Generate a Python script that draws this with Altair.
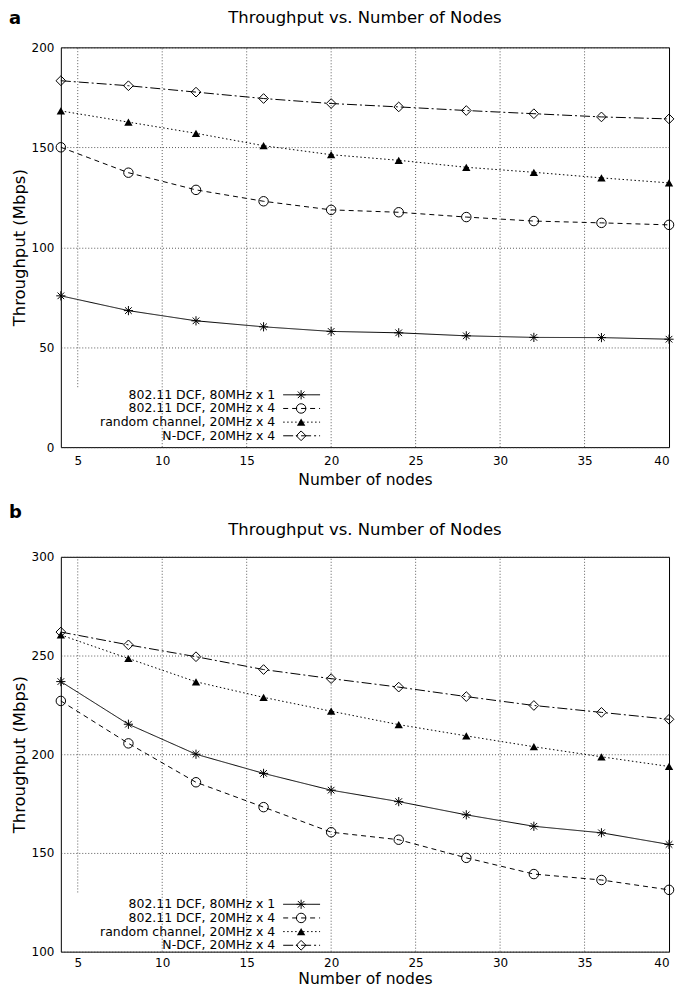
import altair as alt
import pandas as pd

# ---------------- data ----------------
nodes = [4, 8, 12, 16, 20, 24, 28, 32, 36, 40]
series_names = [
    "802.11 DCF, 80MHz x 1",
    "802.11 DCF, 20MHz x 4",
    "random channel, 20MHz x 4",
    "N-DCF, 20MHz x 4",
]

# panel a
a_dcf80 = [75.7, 68.3, 63.2, 60.2, 57.9, 57.2, 55.7, 54.9, 54.8, 54.0]
a_dcf20 = [150.0, 137.3, 128.7, 123.0, 118.7, 117.5, 115.1, 113.1, 112.2, 111.2]
a_rand = [168.2, 162.6, 157.0, 150.8, 146.3, 143.5, 140.0, 137.5, 134.7, 132.2]
a_ndcf = [183.3, 180.8, 177.6, 174.4, 171.9, 170.2, 168.4, 166.8, 165.2, 164.2]

# panel b
b_dcf80 = [236.8, 215.2, 200.0, 190.3, 181.8, 176.0, 169.3, 163.5, 160.2, 154.3]
b_dcf20 = [227.0, 205.5, 185.8, 173.2, 160.5, 156.7, 147.5, 139.3, 136.3, 131.3]
b_rand = [260.4, 248.5, 236.7, 228.8, 221.8, 215.0, 209.3, 203.8, 198.7, 193.8]
b_ndcf = [261.9, 255.4, 249.4, 242.9, 238.3, 234.0, 229.2, 224.7, 221.2, 217.7]

x_ticks = [5, 10, 15, 20, 25, 30, 35, 40]
x_grid = [5, 10, 15, 20, 25, 30, 35]
a_y_ticks = [0, 50, 100, 150, 200]
b_y_ticks = [100, 150, 200, 250, 300]

title_text = "Throughput vs. Number of Nodes"
x_title = "Number of nodes"
y_title = "Throughput (Mbps)"

# ---------------- styles ----------------
FONT = "DejaVu Sans"
W = 610
STAR = "M-1,0L1,0M0,-1L0,1M-0.72,-0.72L0.72,0.72M-0.72,0.72L0.72,-0.72"
dashes = [[1, 0], [5, 4], [1.5, 2.5], [10, 3, 2, 3]]
shapes = [STAR, "circle", "triangle-up", "diamond"]
sizes = [85, 90, 70, 95]
fills = [False, False, True, False]


def panel(letter, values, ymin, ymax, yticks, grid5_lo, H, letter_y, title_y,
          lab_pad, tit_pad):
    layers = []
    xs = alt.Scale(domain=[4, 40], nice=False, zero=False)
    ys = alt.Scale(domain=[ymin, ymax], nice=False, zero=False)
    x_axis = alt.Axis(
        values=x_ticks, title=x_title, grid=False, ticks=False, domain=False,
        labelFlush=True, labelPadding=lab_pad, titlePadding=tit_pad,
    )
    y_axis = alt.Axis(
        values=yticks, title=y_title, grid=True, gridDash=[1, 2],
        gridColor="#333", gridWidth=0.8, ticks=False, domain=False,
        labelPadding=7, titlePadding=4,
    )

    def X(f):
        return alt.X(f, scale=xs, axis=x_axis, title=x_title)

    def Y(f):
        return alt.Y(f, scale=ys, axis=y_axis, title=y_title)

    # vertical grid lines
    gdf = pd.DataFrame({
        "gx": x_grid,
        "glo": [grid5_lo if g == 5 else ymin for g in x_grid],
        "ghi": [ymax for _ in x_grid],
    })
    layers.append(alt.Chart(gdf).mark_rule(
        color="#333", strokeWidth=0.8, strokeDash=[1, 2]
    ).encode(x=X("gx:Q"), y=Y("glo:Q"), y2="ghi:Q"))

    for i, (name, vals) in enumerate(zip(series_names, values)):
        df = pd.DataFrame({"nodes": nodes, "thr": vals, "series": name})
        base = alt.Chart(df).encode(x=X("nodes:Q"), y=Y("thr:Q"))
        layers.append(base.mark_line(color="black", strokeWidth=1,
                                     strokeDash=dashes[i]))
        layers.append(base.mark_point(
            shape=shapes[i], size=sizes[i], filled=fills[i],
            color="black", strokeWidth=1, opacity=1,
        ))

    # legend (inside plot, lower left)
    row0, step = 348.5, 13.7
    ldf = pd.DataFrame({"name": series_names})
    ldf["ly"] = [row0 + step * i for i in range(len(series_names))]
    layers.append(alt.Chart(ldf).mark_text(
        align="right", baseline="middle", font=FONT, fontSize=12.5, color="black"
    ).encode(x=alt.value(215), y=alt.Y("ly:Q", scale=None), text="name:N"))
    for i, name in enumerate(series_names):
        one = pd.DataFrame({"name": [name]})
        yy = row0 + step * i
        layers.append(alt.Chart(one).mark_rule(
            color="black", strokeWidth=1, strokeDash=dashes[i]
        ).encode(x=alt.value(223), x2=alt.value(260), y=alt.value(yy)))
        layers.append(alt.Chart(one).mark_point(
            shape=shapes[i], size=sizes[i], filled=fills[i], color="black",
            strokeWidth=1, opacity=1,
        ).encode(x=alt.value(241), y=alt.value(yy)))

    # title and panel letter
    layers.append(alt.Chart(pd.DataFrame({"t": [title_text]})).mark_text(
        align="center", baseline="top", font=FONT, fontSize=16.5, color="black"
    ).encode(x=alt.value(W / 2), y=alt.value(title_y), text="t:N"))
    layers.append(alt.Chart(pd.DataFrame({"t": [letter]})).mark_text(
        align="left", baseline="top", font=FONT, fontSize=18,
        fontWeight="bold", color="black"
    ).encode(x=alt.value(-52), y=alt.value(letter_y), text="t:N"))

    return alt.layer(*layers).properties(width=W, height=H)


pa = panel("a", [a_dcf80, a_dcf20, a_rand, a_ndcf], 0, 200, a_y_ticks, 30,
           401, -37, -37, 8, 6)
pb = panel("b", [b_dcf80, b_dcf20, b_rand, b_ndcf], 100, 300, b_y_ticks, 130,
           396, -53, -35, 6, 3)

chart = alt.vconcat(pa, pb, spacing=14).properties(padding=0).configure_view(
    stroke="black", strokeWidth=1
).configure_axis(
    labelFont=FONT, labelFontSize=12, labelColor="black",
    titleFont=FONT, titleFontSize=15.6, titleFontWeight="normal", titleColor="black",
).configure_axisY(titleFontSize=16.5)

chart.save("out.html", embed_options={"renderer": "svg", "actions": False})
